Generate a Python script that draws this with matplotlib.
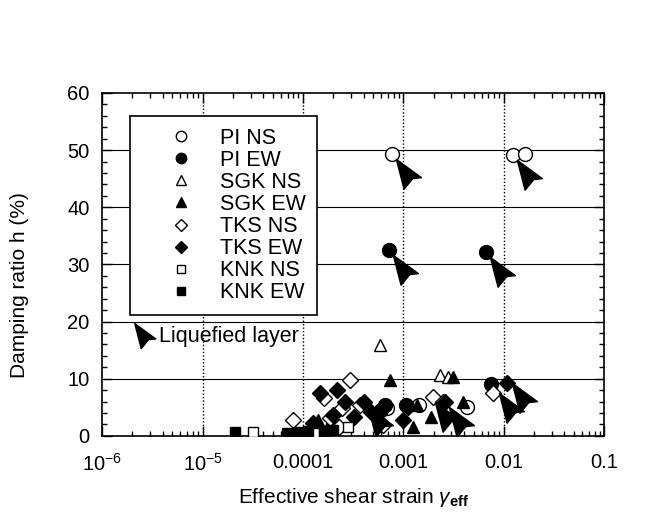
import matplotlib.pyplot as plt
from matplotlib.path import Path
from matplotlib.lines import Line2D
from matplotlib.ticker import FixedLocator, FixedFormatter, LogLocator, MultipleLocator, NullFormatter

plt.rcParams['font.family'] = 'Liberation Sans'
plt.rcParams['mathtext.fontset'] = 'custom'
plt.rcParams['mathtext.rm'] = 'Liberation Sans'
plt.rcParams['mathtext.it'] = 'Liberation Sans:italic'
plt.rcParams['mathtext.bf'] = 'Liberation Sans:bold'

# effective shear strain / damping ratio (%) for each site and direction
pi_ns_x = [0.00077, 0.0123, 0.0163, 0.00068, 0.00142, 0.0043]
pi_ns_h = [49.4, 49.1, 49.3, 4.8, 5.4, 5.1]
pi_ew_x = [0.00071, 0.00668, 0.00745, 0.00060, 0.00066, 0.00105]
pi_ew_h = [32.5, 32.2, 9.1, 4.5, 5.4, 5.4]
sgk_ns_x = [0.00059, 0.0023, 0.0028]
sgk_ns_h = [15.9, 10.7, 10.3]
sgk_ew_x = [0.00074, 0.0031, 0.00014, 0.00019, 0.00125, 0.0019, 0.0039, 0.00135]
sgk_ew_h = [9.8, 10.3, 2.8, 2.8, 1.6, 3.3, 5.9, 5.4]
tks_ns_x = [0.000295, 7.9e-5, 1.6e-4, 2.45e-4, 2.3e-4, 1.86e-4, 3.7e-4, 6.3e-4, 0.00195, 0.0025, 0.0078]
tks_ns_h = [9.8, 2.8, 6.6, 4.9, 1.6, 3.1, 5.4, 1.9, 6.8, 5.9, 7.5]
tks_ew_x = [2.2e-4, 1.48e-4, 2.6e-4, 4.0e-4, 3.2e-4, 2.0e-4, 1.26e-4, 4.7e-4, 0.00099, 0.0011, 0.0108, 0.0026]
tks_ew_h = [8.0, 7.5, 5.9, 5.9, 3.3, 3.7, 2.3, 4.2, 2.8, 5.1, 9.3, 6.0]
knk_ns_x = [3.2e-5, 1.3e-4, 2.8e-4]
knk_ns_h = [0.7, 0.5, 1.6]
knk_ew_x = [2.1e-5, 6.9e-5, 1.13e-4, 2.0e-4, 9.0e-5, 1.6e-4]
knk_ew_h = [0.7, 0.5, 0.9, 1.0, 0.6, 0.8]

# points that belong to a liquefied layer
liq_x = [0.00077, 0.0123, 0.00071, 0.00668, 0.0082, 0.011, 0.0019, 0.0026, 0.0004]
liq_h = [49.4, 49.1, 32.5, 32.2, 8.4, 10.1, 6.8, 6.0, 5.9]

xticks = [1e-6, 1e-5, 1e-4, 1e-3, 1e-2, 1e-1]
xticklabels = [r'$10^{-6}$', r'$10^{-5}$', '0.0001', '0.001', '0.01', '0.1']

# arrowhead sitting below-right of its point, tip pointing back at it
dart = Path([(4, -5), (30, -24), (21, -25), (12, -36), (4, -5)],
            [Path.MOVETO, Path.LINETO, Path.LINETO, Path.LINETO, Path.CLOSEPOLY])

series = [
    (pi_ns_x, pi_ns_h, 'o', 'white', 10, 'PI NS'),
    (pi_ew_x, pi_ew_h, 'o', 'black', 10, 'PI EW'),
    (sgk_ns_x, sgk_ns_h, '^', 'white', 9, 'SGK NS'),
    (sgk_ew_x, sgk_ew_h, '^', 'black', 9, 'SGK EW'),
    (tks_ns_x, tks_ns_h, 'D', 'white', 8, 'TKS NS'),
    (tks_ew_x, tks_ew_h, 'D', 'black', 8, 'TKS EW'),
    (knk_ns_x, knk_ns_h, 's', 'white', 7.5, 'KNK NS'),
    (knk_ew_x, knk_ew_h, 's', 'black', 7.5, 'KNK EW'),
]

fig = plt.figure(figsize=(6.47, 5.22), dpi=100)
ax = fig.add_axes([0.158, 0.165, 0.776, 0.657])

for x, h, m, fc, ms, lab in series:
    ax.plot(x, h, ls='none', marker=m, mfc=fc, mec='black', mew=1.0, ms=ms, zorder=3)

ax.plot(liq_x, liq_h, ls='none', marker=dart, ms=50, mfc='black', mec='black', zorder=4)

ax.set_xscale('log')
ax.set_xlim(1e-6, 0.1)
ax.set_ylim(0, 60)

ax.xaxis.set_major_locator(FixedLocator(xticks))
ax.xaxis.set_major_formatter(FixedFormatter(xticklabels))
ax.xaxis.set_minor_locator(LogLocator(base=10, subs=range(2, 10)))
ax.xaxis.set_minor_formatter(NullFormatter())
ax.yaxis.set_major_locator(MultipleLocator(10))
ax.yaxis.set_minor_locator(MultipleLocator(2))

ax.tick_params(which='both', direction='in', top=True, right=True, width=1.0)
ax.tick_params(which='major', length=7, labelsize=14.5)
ax.tick_params(axis='x', which='major', pad=12)
ax.tick_params(axis='y', which='major', pad=9)
ax.tick_params(which='minor', length=3.5)
for s in ax.spines.values():
    s.set_linewidth(1.2)

for yv in range(10, 60, 10):
    ax.axhline(yv, color='black', lw=0.8, zorder=1)
for xv in xticks[1:-1]:
    ax.axvline(xv, color='black', lw=1.0, ls=(0, (1, 1.5)), zorder=1)

ax.set_xlabel(r'Effective shear strain $\gamma_{\mathbf{eff}}$', fontsize=15, labelpad=8)
ax.set_ylabel('Damping ratio h (%)', fontsize=15)
ax.yaxis.set_label_coords(-0.145, 0.44)

handles = [Line2D([], [], ls='none', marker=m, mfc=fc, mec='black', mew=1.0, ms=ms * 0.75)
           for x, h, m, fc, ms, lab in series]
labels = [s[5] for s in series]
leg = ax.legend(handles, labels, loc='upper left', bbox_to_anchor=(0.056, 0.933),
                borderaxespad=0, frameon=True, fancybox=False, framealpha=1,
                edgecolor='black', fontsize=15.5, handlelength=3.6, handletextpad=0.0,
                borderpad=0.55, labelspacing=0.05)
leg.get_frame().set_linewidth(1.2)
leg.set_zorder(5)

ax.plot([0.058], [0.341], transform=ax.transAxes, ls='none', marker=dart, ms=42,
        mfc='black', mec='black', clip_on=False, zorder=6)
ax.text(0.113, 0.290, 'Liquefied layer', transform=ax.transAxes, fontsize=15.5,
        va='center', ha='left', zorder=6)

fig.savefig('out.png', dpi=100)
